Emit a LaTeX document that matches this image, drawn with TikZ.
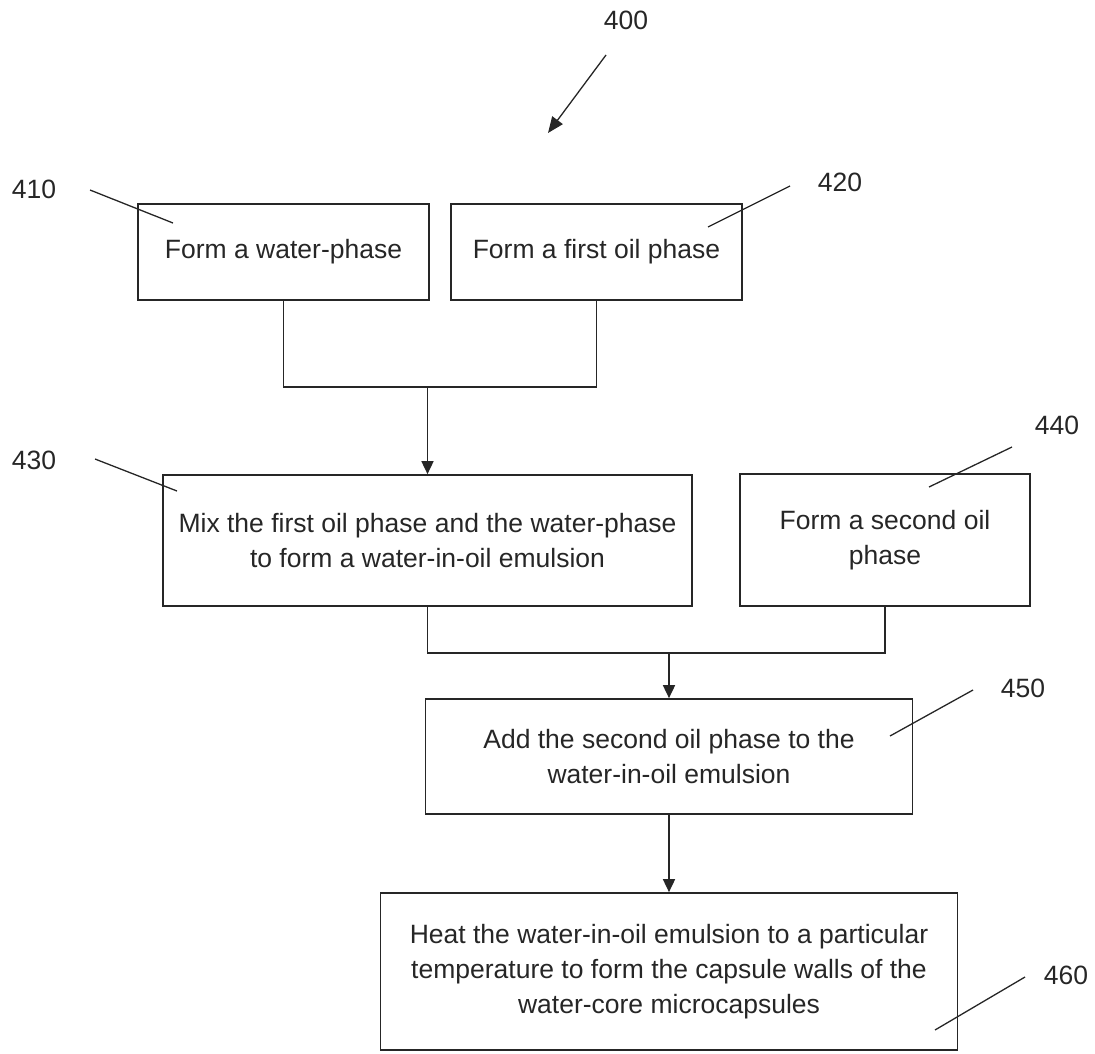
\documentclass[tikz,border=0pt]{standalone}
\usepackage{fontspec}
\setmainfont{Liberation Sans}
\usetikzlibrary{arrows.meta}
\begin{document}
\begin{tikzpicture}[x=1pt,y=-1pt,
  box/.style={draw=black!85, line width=1.7pt, inner sep=0pt, align=center,
    font=\fontsize{26.5}{35}\selectfont, text=black!85},
  conn/.style={draw=black!85, line width=1.7pt},
  arr/.style={conn, -{Triangle[length=13pt,width=12pt]}},
  lead/.style={draw=black!85, line width=1.3pt},
  num/.style={font=\fontsize{26.5}{30}\selectfont, inner sep=0pt, text=black!85}]
\useasboundingbox (0,0) rectangle (1095,1053);

% boxes
\node[box, minimum width=291pt, minimum height=96pt] (n410) at (283.5,252) {Form a water-phase};
\node[box, minimum width=291pt, minimum height=96pt] (n420) at (596.5,252) {Form a first oil phase};
\node[box, minimum width=529pt, minimum height=131pt] (n430) at (427.5,540.5)
  {Mix the first oil phase and the water-phase\\to form a water-in-oil emulsion};
\node[box, minimum width=290pt, minimum height=132pt] (n440) at (885,540)
  {Form a second oil\\phase};
\node[box, minimum width=487pt, minimum height=115pt] (n450) at (669,756.5)
  {Add the second oil phase to the\\water-in-oil emulsion};
\node[box, minimum width=577pt, minimum height=157pt] (n460) at (669,971.5)
  {Heat the water-in-oil emulsion to a particular\\temperature to form the capsule walls of the\\water-core microcapsules};

% connectors
\coordinate (j1) at (427.5,387);
\coordinate (j2) at (669,653);
\draw[conn] (n410.south) |- (j1) -| (n420.south);
\draw[arr] (j1) -- (n430.north);
\draw[conn] (n430.south) |- (j2) -| (n440.south);
\draw[arr] (j2) -- (n450.north);
\draw[arr] (n450.south) -- (n460.north);

% reference numbers
\node[num] (l400) at (626,20) {400};
\node[num] (l410) at (34,189) {410};
\node[num] (l420) at (840,182) {420};
\node[num] (l430) at (34,460) {430};
\node[num] (l440) at (1057,425) {440};
\node[num] (l450) at (1023,688) {450};
\node[num] (l460) at (1066,975) {460};

\coordinate (a400s) at (606,55);
\coordinate (a400e) at (548,133);
\draw[lead, -{Triangle[length=16pt,width=13pt]}] (a400s) -- (a400e);

\coordinate (p410s) at (90,190);  \coordinate (p410e) at (173,223);
\coordinate (p420s) at (790,186); \coordinate (p420e) at (708,227);
\coordinate (p430s) at (95,459);  \coordinate (p430e) at (177,491);
\coordinate (p440s) at (1012,447); \coordinate (p440e) at (929,487);
\coordinate (p450s) at (973,690); \coordinate (p450e) at (890,736);
\coordinate (p460s) at (1025,977); \coordinate (p460e) at (935,1030);
\draw[lead] (p410s) -- (p410e);
\draw[lead] (p420s) -- (p420e);
\draw[lead] (p430s) -- (p430e);
\draw[lead] (p440s) -- (p440e);
\draw[lead] (p450s) -- (p450e);
\draw[lead] (p460s) -- (p460e);
\end{tikzpicture}
\end{document}
